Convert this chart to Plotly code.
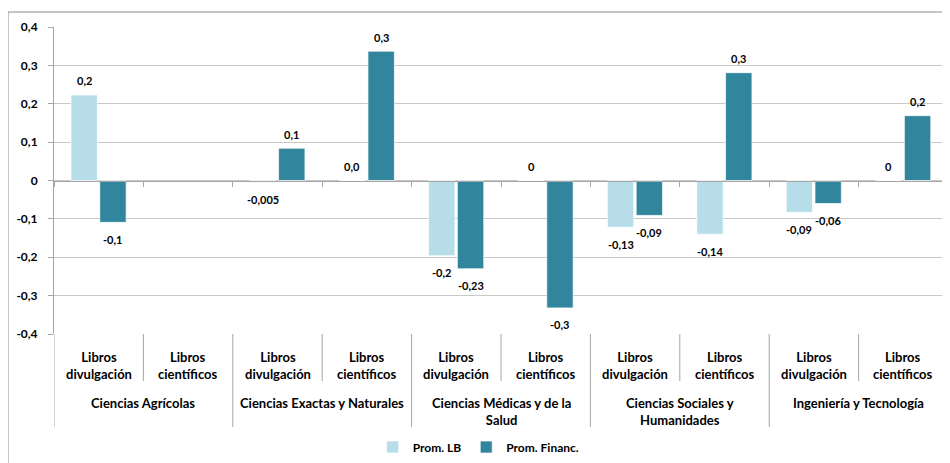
import plotly.graph_objects as go

# ---- data ----
groups = ["Ciencias Agrícolas", "Ciencias Exactas y Naturales",
          "Ciencias Médicas y de la<br>Salud", "Ciencias Sociales y<br>Humanidades",
          "Ingeniería y Tecnología"]
subcats = ["Libros<br>divulgación", "Libros<br>científicos"]

prom_lb = [0.223, None, -0.005, 0.0, -0.196, 0.0, -0.122, -0.14, -0.083, 0.0]
prom_fin = [-0.109, None, 0.084, 0.337, -0.230, -0.332, -0.091, 0.281, -0.060, 0.169]

lb_labels = ["0,2", "", "-0,005", "0,0", "-0,2", "0", "-0,13", "-0,14", "-0,09", "0"]
fin_labels = ["-0,1", "", "0,1", "0,3", "-0,23", "-0,3", "-0,09", "0,3", "-0,06", "0,2"]

ytick_vals = [-0.4, -0.3, -0.2, -0.1, 0, 0.1, 0.2, 0.3, 0.4]
ytick_text = ["-0,4", "-0,3", "-0,2", "-0,1", "0", "0,1", "0,2", "0,3", "0,4"]

series_names = ["Prom. LB", "Prom. Financ."]
colors = ["#B7DEE8", "#31859C"]

# ---- layout helpers (reference pixel coords; page body has 8px margin) ----
FONT = "Lato"
OFF = 8
W, H = 950 - OFF, 463 - OFF
L, R, T, B = 54, 948, 27, 334
pw, ph = R - L, B - T


def px_x(p):
    return (p - L) / pw


def px_y(p):
    return (B - p) / ph


n = len(prom_lb)
xpos = list(range(n))
bar_w = 0.295
offsets = [-0.31, 0.012]

fig = go.Figure()
for vals, name, col, off in zip([prom_lb, prom_fin], series_names, colors, offsets):
    fig.add_trace(go.Bar(
        x=xpos, y=vals, name=name, width=bar_w, offset=off,
        marker=dict(color=col, line=dict(color="rgba(255,255,255,0.7)", width=1)),
        hoverinfo="skip",
    ))

annotations = []
for vals, labels, off in zip([prom_lb, prom_fin], [lb_labels, fin_labels], offsets):
    for i, (v, t) in enumerate(zip(vals, labels)):
        if v is None or not t:
            continue
        annotations.append(dict(
            x=i + off + bar_w / 2, y=v, xref="x", yref="y", text=t,
            showarrow=False, yanchor="middle", yshift=14 if v >= 0 else -17,
            font=dict(family=FONT, size=11, color="#000", weight="bold"),
        ))

for i in range(n):
    annotations.append(dict(
        x=i, y=px_y(365), xref="x", yref="paper", text=subcats[i % 2],
        showarrow=False, yanchor="middle",
        font=dict(family=FONT, size=13, color="#000", weight="bold"),
    ))
for g, name in enumerate(groups):
    annotations.append(dict(
        x=2 * g + 0.5, y=px_y(393), xref="x", yref="paper", text=name,
        showarrow=False, yanchor="top",
        font=dict(family=FONT, size=13, color="#000", weight="bold"),
    ))

shapes = []
sep_col = "#a6a6a6"
for k in range(n + 1):
    xb = k - 0.5
    y_end = px_y(427) if k % 2 == 0 else px_y(381)
    shapes.append(dict(type="line", xref="x", yref="paper", x0=xb, x1=xb,
                       y0=0, y1=y_end, line=dict(color=sep_col, width=1)))

shapes.append(dict(type="line", xref="paper", yref="paper",
                   x0=px_x(8), x1=px_x(960), y0=px_y(12), y1=px_y(12),
                   line=dict(color="#8c8c8c", width=1)))
shapes.append(dict(type="line", xref="paper", yref="paper",
                   x0=px_x(8), x1=px_x(8), y0=px_y(12), y1=px_y(480),
                   line=dict(color="#8c8c8c", width=1)))

fig.update_layout(
    width=W, height=H,
    margin=dict(l=L - OFF, r=(950 - OFF) - (R - OFF), t=T - OFF, b=H - (B - OFF), pad=0),
    paper_bgcolor="white", plot_bgcolor="white",
    barmode="overlay",
    showlegend=True,
    legend=dict(orientation="h", x=0.475, xanchor="center", y=px_y(447), yanchor="middle",
                font=dict(family=FONT, size=12, color="#000", weight="bold"),
                bgcolor="rgba(0,0,0,0)"),
    xaxis=dict(range=[-0.5, n - 0.5], showgrid=False, zeroline=False,
               tickvals=[k - 0.5 for k in range(n + 1)], showticklabels=False,
               ticks="outside", ticklen=5, tickcolor=sep_col,
               showline=True, linecolor=sep_col, linewidth=1,
               anchor="free", position=0.5),
    yaxis=dict(range=[-0.4, 0.4], tickvals=ytick_vals, ticktext=ytick_text,
               showgrid=True, gridcolor="#c8c8c8", gridwidth=1, zeroline=False,
               showline=True, linecolor=sep_col, linewidth=1,
               ticks="outside", ticklen=5, tickcolor=sep_col, ticklabelstandoff=8,
               tickfont=dict(family=FONT, size=12, color="#000", weight="bold")),
    annotations=annotations,
    shapes=shapes,
    font=dict(family=FONT),
)

fig.write_html("out.html")
